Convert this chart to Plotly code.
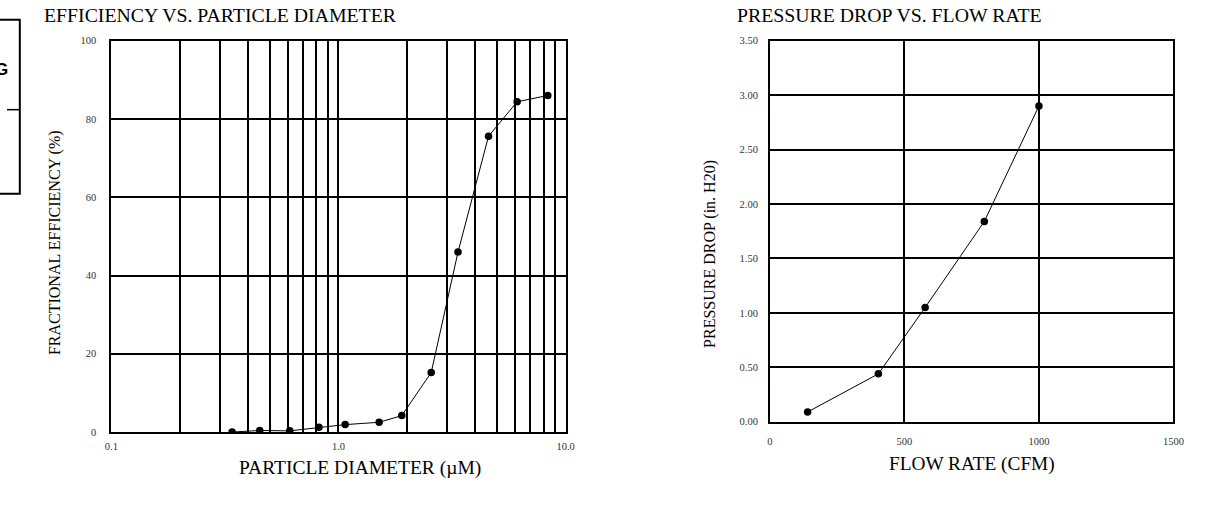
import plotly.graph_objects as go

# ---- data ----
diameter_um = [0.34, 0.45, 0.61, 0.82, 1.07, 1.51, 1.90, 2.56, 3.36, 4.58, 6.12, 8.35]
efficiency_pct = [0.0, 0.4, 0.3, 1.2, 1.9, 2.5, 4.2, 15.2, 46.0, 75.6, 84.4, 86.0]

flow_cfm = [140, 403, 577, 797, 1000]
pressure_drop_in = [0.09, 0.44, 1.05, 1.84, 2.90]

left_tickvals = [0.1, 1, 10]
left_ticktext = ["0.1", "1.0", "10.0"]

W, H = 1210, 508
def px(x):
    return x / W
def py(y):
    return 1 - y / H

FONT = "Liberation Serif"
tickfont = dict(family=FONT, size=10.5, color="#333")

fig = go.Figure()
fig.add_trace(go.Scatter(
    x=diameter_um, y=efficiency_pct, mode="lines+markers",
    line=dict(color="black", width=1),
    marker=dict(color="black", size=7.5),
    xaxis="x", yaxis="y", showlegend=False))
fig.add_trace(go.Scatter(
    x=flow_cfm, y=pressure_drop_in, mode="lines+markers",
    line=dict(color="black", width=1),
    marker=dict(color="black", size=7.5),
    xaxis="x2", yaxis="y2", showlegend=False))

axis_common = dict(showline=True, mirror=True, linecolor="black", linewidth=2,
                   showgrid=True, gridcolor="black", gridwidth=2,
                   zeroline=False, ticks="", tickfont=tickfont)

fig.update_layout(
    width=W, height=H,
    margin=dict(l=0, r=0, t=0, b=0),
    paper_bgcolor="white", plot_bgcolor="white",
    hovermode=False,
    xaxis=dict(type="log", range=[-1, 1], domain=[px(106), px(567)],
               tickmode="array", tickvals=left_tickvals, ticktext=left_ticktext,
               minor=dict(dtick="D1", showgrid=True, gridcolor="black", gridwidth=2, ticks=""),
               ticklabelstandoff=3, anchor="y", **axis_common),
    yaxis=dict(range=[0, 100], dtick=20, domain=[py(436.5), py(36.5)],
               ticklabelstandoff=11, anchor="x", **axis_common),
    xaxis2=dict(range=[0, 1500], dtick=500, domain=[px(774.5), px(1184)],
                ticklabelstandoff=9, anchor="y2", **axis_common),
    yaxis2=dict(range=[0, 3.5], dtick=0.5, tickformat=".2f", domain=[py(426), py(36.5)],
                ticklabelstandoff=8, anchor="x2", **axis_common),
)

ann = [
    dict(text="EFFICIENCY VS. PARTICLE DIAMETER", x=px(36), y=py(10.5), xanchor="left", yanchor="middle",
         font=dict(family=FONT, size=19.8, color="black")),
    dict(text="PRESSURE DROP VS. FLOW RATE", x=px(739), y=py(10.5), xanchor="left", yanchor="middle",
         font=dict(family=FONT, size=19.8, color="black")),
    dict(text="PARTICLE DIAMETER (µM)", x=px(358), y=py(473), xanchor="center", yanchor="middle",
         font=dict(family=FONT, size=19.5, color="black")),
    dict(text="FLOW RATE (CFM)", x=px(980), y=py(469), xanchor="center", yanchor="middle",
         font=dict(family=FONT, size=19.3, color="black")),
    dict(text="FRACTIONAL EFFICIENCY (%)", x=px(48), y=py(243), xanchor="center", yanchor="middle",
         textangle=-90, font=dict(family=FONT, size=16, color="black")),
    dict(text="PRESSURE DROP (in. H20)", x=px(713), y=py(254), xanchor="center", yanchor="middle",
         textangle=-90, font=dict(family=FONT, size=16, color="black")),
    dict(text="<b>G</b>", x=px(3), y=py(66), xanchor="right", yanchor="middle",
         font=dict(family="Liberation Sans", size=17, color="black")),
]
for a in ann:
    a.update(xref="paper", yref="paper", showarrow=False)
fig.update_layout(annotations=ann)

fig.update_layout(shapes=[
    dict(type="rect", xref="paper", yref="paper", x0=px(-10), x1=px(13), y0=py(193), y1=py(15),
         line=dict(color="black", width=2)),
    dict(type="line", xref="paper", yref="paper", x0=px(0), x1=px(13), y0=py(107), y1=py(107),
         line=dict(color="black", width=1.5)),
])

# place the figure at the page's top-left corner (no default body margin), no modebar
fig.write_html("out.html",
               config={"displayModeBar": False, "staticPlot": True},
               post_script="document.body.style.margin='0';document.body.style.overflow='hidden';")
